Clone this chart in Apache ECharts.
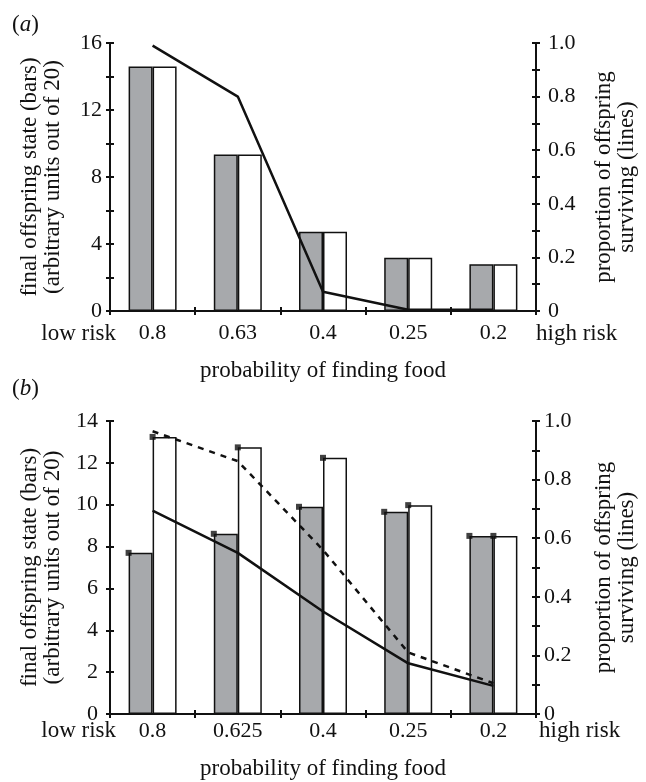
<!DOCTYPE html>
<html>
<head>
<meta charset="utf-8">
<script src="https://cdn.jsdelivr.net/npm/echarts@6/dist/echarts.min.js"></script>
<style>
html,body{margin:0;padding:0;background:#fff;}
#chart{width:646px;height:782px;}
</style>
</head>
<body>
<div id="chart"></div>
<script>
// ---- data ----
const catsA = ['0.8', '0.63', '0.4', '0.25', '0.2'];
const barsGrayA = [14.6, 9.35, 4.73, 3.18, 2.79];
const barsWhiteA = [14.6, 9.35, 4.73, 3.18, 2.79];
const lineA = [0.99, 0.80, 0.072, 0.005, 0.005];

const catsB = ['0.8', '0.625', '0.4', '0.25', '0.2'];
const barsGrayB = [7.70, 8.61, 9.90, 9.66, 8.51];
const barsWhiteB = [13.24, 12.74, 12.24, 9.98, 8.51];
const lineSolidB = [0.694, 0.55, 0.35, 0.173, 0.096];
const lineDashedB = [0.965, 0.863, 0.56, 0.21, 0.105];

const leftName = 'final offspring state (bars)\n(arbitrary units out of 20)';
const rightName = 'proportion of offspring\nsurviving (lines)';
const xName = 'probability of finding food';

// ---- style ----
const FONT = 'Liberation Serif';
const FS = 22;
const FSN = 23;
const BLACK = '#111';
const GRAY = '#a7a9ac';
const BW = 24;

const axisLineStyle = { show: true, lineStyle: { color: BLACK, width: 2 } };
const tickOut = { show: true, inside: false, length: 4, lineStyle: { color: BLACK, width: 2 } };
const tickIn = { show: true, inside: true, length: 4, lineStyle: { color: BLACK, width: 2 } };
const labelStyle = { color: BLACK, fontFamily: FONT, fontSize: FS };

function catAxis(grid, cats, margin, nameGap) {
  return [
    {
      type: 'category', gridIndex: grid, data: cats, position: 'bottom',
      axisLine: axisLineStyle, axisTick: tickOut,
      axisLabel: Object.assign({ margin: margin, interval: 0 }, labelStyle),
      name: xName, nameLocation: 'middle', nameGap: nameGap,
      nameTextStyle: { color: BLACK, fontFamily: FONT, fontSize: FSN },
      splitLine: { show: false }
    },
    {
      type: 'category', gridIndex: grid, data: cats, position: 'bottom',
      axisLine: { show: false }, axisTick: tickIn, axisLabel: { show: false },
      splitLine: { show: false }
    }
  ];
}

function leftFmt4(v) { return v % 4 === 0 ? String(v) : ''; }
function leftFmt2(v) { return String(v); }
function rightFmt(v) {
  const k = Math.round(v * 10);
  if (k % 2) return '';
  return k === 0 ? '0' : (k / 10).toFixed(1);
}

function valAxes(grid, maxL, fmtL, marginL, marginR) {
  return [
    {
      type: 'value', gridIndex: grid, position: 'left', min: 0, max: maxL, interval: 2,
      axisLine: axisLineStyle, axisTick: tickOut,
      axisLabel: Object.assign({ margin: marginL, formatter: fmtL }, labelStyle),
      splitLine: { show: false },
      name: leftName, nameLocation: 'middle', nameRotate: 90, nameGap: 46,
      nameTextStyle: { color: BLACK, fontFamily: FONT, fontSize: FSN, lineHeight: 23 }
    },
    {
      type: 'value', gridIndex: grid, position: 'right', min: 0, max: 1, interval: 0.1,
      axisLine: axisLineStyle, axisTick: tickOut,
      axisLabel: Object.assign({ margin: marginR, formatter: rightFmt }, labelStyle),
      splitLine: { show: false },
      name: rightName, nameLocation: 'middle', nameRotate: 90, nameGap: 56,
      nameTextStyle: { color: BLACK, fontFamily: FONT, fontSize: FSN, lineHeight: 23 }
    },
    {
      type: 'value', gridIndex: grid, position: 'left', min: 0, max: maxL, interval: 2,
      axisLine: { show: false }, axisTick: tickIn, axisLabel: { show: false }, splitLine: { show: false }
    },
    {
      type: 'value', gridIndex: grid, position: 'right', min: 0, max: 1, interval: 0.1,
      axisLine: { show: false }, axisTick: tickIn, axisLabel: { show: false }, splitLine: { show: false }
    }
  ];
}

function barSeries(xi, yi, data, fill) {
  return {
    type: 'bar', xAxisIndex: xi, yAxisIndex: yi, data: data,
    barWidth: BW, barGap: '0%',
    itemStyle: { color: fill, borderColor: BLACK, borderWidth: 1.5 },
    silent: true, animation: false, z: 2
  };
}
function lineSeries(xi, yi, data, type) {
  return {
    type: 'line', xAxisIndex: xi, yAxisIndex: yi, data: data,
    symbol: 'none', lineStyle: { color: BLACK, width: 2.5, type: type },
    animation: false, z: 5
  };
}
function markerSeries(xi, yi, data, offset) {
  return {
    type: 'scatter', xAxisIndex: xi, yAxisIndex: yi, data: data,
    symbol: 'rect', symbolSize: 6, symbolOffset: [offset, 0],
    itemStyle: { color: BLACK }, animation: false, z: 6
  };
}

function panelLabel(letter, x, y) {
  return {
    type: 'text', left: x, top: y,
    style: {
      text: '(' + '{i|' + letter + '})',
      fill: BLACK, font: FSN + 'px "' + FONT + '"',
      rich: { i: { fontStyle: 'italic', fontFamily: FONT, fontSize: FSN, fill: BLACK } }
    }
  };
}
function sideText(txt, x, y, align) {
  return {
    type: 'text', x: x, y: y,
    style: { text: txt, fill: BLACK, font: FSN + 'px "' + FONT + '"', align: align, verticalAlign: 'top' }
  };
}

const option = {
  backgroundColor: '#fff',
  animation: false,
  grid: [
    { left: 110, right: 107.3, top: 43, bottom: 471, containLabel: false },
    { left: 110, right: 103.3, top: 421, bottom: 68, containLabel: false }
  ],
  xAxis: [].concat(catAxis(0, catsA, 11.5, 48), catAxis(1, catsB, 6, 43)),
  yAxis: [].concat(valAxes(0, 16, leftFmt4, 8, 12), valAxes(1, 14, leftFmt2, 12, 8)),
  series: [
    barSeries(0, 0, barsGrayA, GRAY),
    barSeries(0, 0, barsWhiteA, '#fff'),
    lineSeries(0, 1, lineA, 'solid'),

    barSeries(2, 4, barsGrayB, GRAY),
    barSeries(2, 4, barsWhiteB, '#fff'),
    markerSeries(2, 4, barsGrayB, -BW),
    markerSeries(2, 4, barsWhiteB, 0),
    lineSeries(2, 5, lineSolidB, 'solid'),
    lineSeries(2, 5, lineDashedB, [6, 6])
  ],
  graphic: [
    panelLabel('a', 12, 13),
    panelLabel('b', 12, 377),
    sideText('low risk', 116, 322, 'right'),
    sideText('high risk', 536, 322, 'left'),
    sideText('low risk', 116, 719.5, 'right'),
    sideText('high risk', 539, 719.5, 'left')
  ]
};

const chart = echarts.init(document.getElementById('chart'), null, { renderer: 'canvas' });
chart.setOption(option);
</script>
</body>
</html>
